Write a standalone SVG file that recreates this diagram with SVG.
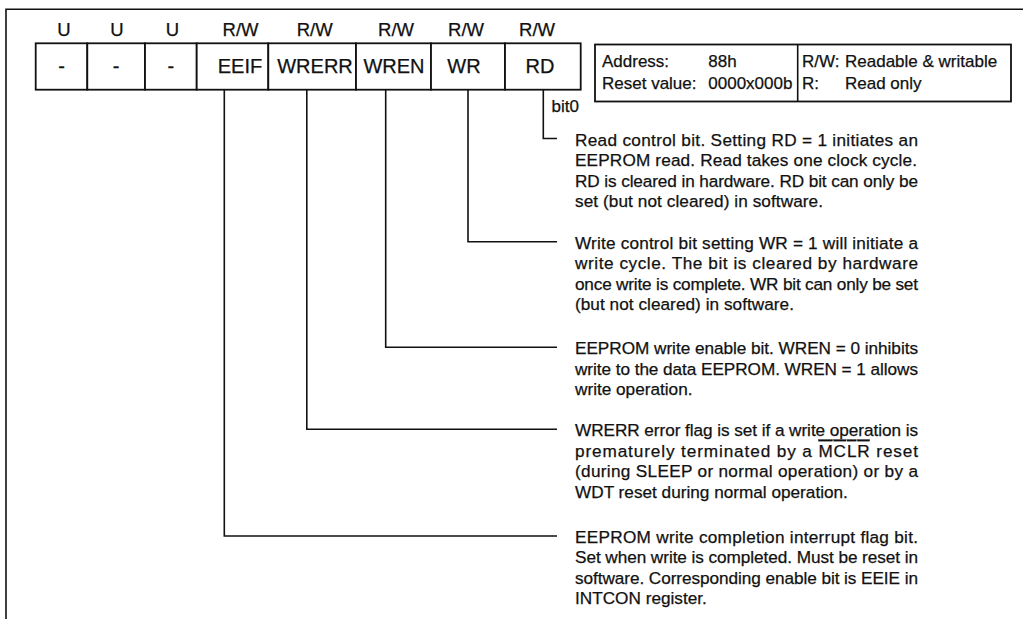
<svg xmlns="http://www.w3.org/2000/svg" width="1023" height="619" viewBox="0 0 1023 619">
<style>
  .ln { stroke:#111; stroke-width:1.6; fill:none; }
  .box { stroke:#111; stroke-width:1.8; fill:#fff; }
  text { font-family:"Liberation Sans", Arial, sans-serif; fill:#111; stroke:#111; stroke-width:0.25; }
  .hd { font-size:18.5px; text-anchor:middle; }
  .cl { font-size:20px; text-anchor:middle; }
  .inf { font-size:17px; }
  .p { font-size:17.2px; }
</style>
<rect width="1023" height="619" fill="#fff"/>
<g id="frame">
  <path class="ln" d="M6,619 V9.3 H1023"/>
</g>
<g id="access">
  <text class="hd" x="64" y="36">U</text>
  <text class="hd" x="117" y="36">U</text>
  <text class="hd" x="172.5" y="36">U</text>
  <text class="hd" x="240.5" y="36">R/W</text>
  <text class="hd" x="314.7" y="36">R/W</text>
  <text class="hd" x="396" y="36">R/W</text>
  <text class="hd" x="466" y="36">R/W</text>
  <text class="hd" x="537" y="36">R/W</text>
</g>
<g id="register">
  <g id="bit7"><rect class="box" x="35.7" y="43.3" width="51.6" height="46.4"/><text class="cl" x="61.5" y="72.5">-</text></g>
  <g id="bit6"><rect class="box" x="87.3" y="43.3" width="57.7" height="46.4"/><text class="cl" x="116" y="72.5">-</text></g>
  <g id="bit5"><rect class="box" x="145" y="43.3" width="51.7" height="46.4"/><text class="cl" x="170.8" y="72.5">-</text></g>
  <g id="bit4-EEIF"><rect class="box" x="196.7" y="43.3" width="71.6" height="46.4"/><text class="cl" x="240" y="72.5">EEIF</text></g>
  <g id="bit3-WRERR"><rect class="box" x="268.3" y="43.3" width="87.7" height="46.4"/><text class="cl" x="315" y="72.5">WRERR</text></g>
  <g id="bit2-WREN"><rect class="box" x="356" y="43.3" width="75" height="46.4"/><text class="cl" x="394" y="72.5">WREN</text></g>
  <g id="bit1-WR"><rect class="box" x="431" y="43.3" width="74" height="46.4"/><text class="cl" x="464" y="72.5">WR</text></g>
  <g id="bit0-RD"><rect class="box" x="505" y="43.3" width="75.7" height="46.4"/><text class="cl" x="540" y="72.5">RD</text></g>
</g>
<g id="bit0-label"><text class="inf" x="551.5" y="111.5">bit0</text></g>
<g id="info">
  <rect class="box" x="595" y="44.5" width="416" height="57"/>
  <line class="ln" x1="797.7" y1="44.5" x2="797.7" y2="101.5"/>
  <text class="inf" x="602" y="67.3">Address:</text>
  <text class="inf" x="708.3" y="67.3">88h</text>
  <text class="inf" x="602" y="89.3">Reset value:</text>
  <text class="inf" x="708.3" y="89.3">0000x000b</text>
  <text class="inf" x="802" y="67.3">R/W:</text>
  <text class="inf" x="845" y="67.3">Readable &amp; writable</text>
  <text class="inf" x="802" y="89.3">R:</text>
  <text class="inf" x="845" y="89.3">Read only</text>
</g>
<g id="connectors">
  <path class="ln" d="M543.3,89.7 V138.5 H557"/>
  <path class="ln" d="M468,89.7 V241.7 H557"/>
  <path class="ln" d="M385.7,89.7 V347.3 H557"/>
  <path class="ln" d="M306.8,89.7 V429.3 H557"/>
  <path class="ln" d="M224.3,89.7 V536 H557"/>
</g>
<g id="desc-RD">
  <text class="p" x="575" y="145.5" textLength="343" lengthAdjust="spacing">Read control bit. Setting RD = 1 initiates an</text>
  <text class="p" x="575" y="166" textLength="342" lengthAdjust="spacing">EEPROM read. Read takes one clock cycle.</text>
  <text class="p" x="575" y="186.5" textLength="343" lengthAdjust="spacing">RD is cleared in hardware.  RD bit can only be</text>
  <text class="p" x="575" y="207" textLength="248" lengthAdjust="spacing">set (but not cleared) in software.</text>
</g>
<g id="desc-WR">
  <text class="p" x="575" y="248.5" textLength="343" lengthAdjust="spacing">Write control bit setting WR = 1 will initiate a</text>
  <text class="p" x="575" y="269" textLength="343" lengthAdjust="spacing">write cycle. The bit is cleared by hardware</text>
  <text class="p" x="575" y="289.5" textLength="343" lengthAdjust="spacing">once write is complete.  WR bit can only be set</text>
  <text class="p" x="575" y="310" textLength="219" lengthAdjust="spacing">(but not cleared) in software.</text>
</g>
<g id="desc-WREN">
  <text class="p" x="575" y="354" textLength="343" lengthAdjust="spacing">EEPROM write enable bit.  WREN = 0 inhibits</text>
  <text class="p" x="575" y="374.5" textLength="343" lengthAdjust="spacing">write to the data EEPROM.  WREN = 1 allows</text>
  <text class="p" x="575" y="395">write operation.</text>
</g>
<g id="desc-WRERR">
  <text class="p" x="575" y="436" textLength="343" lengthAdjust="spacing">WRERR error flag is set if a write operation is</text>
  <text class="p" x="575" y="456.5" textLength="343" lengthAdjust="spacing">prematurely terminated by a <tspan style="text-decoration:overline">MCLR</tspan> reset</text>
  <text class="p" x="575" y="477" textLength="343" lengthAdjust="spacing">(during  SLEEP or normal operation) or by a</text>
  <text class="p" x="575" y="497.5">WDT reset during normal operation.</text>
</g>
<g id="desc-EEIF">
  <text class="p" x="575" y="542.5" textLength="343" lengthAdjust="spacing">EEPROM write completion interrupt flag bit.</text>
  <text class="p" x="575" y="563" textLength="343" lengthAdjust="spacing">Set when write is completed.  Must be reset in</text>
  <text class="p" x="575" y="583.5" textLength="343" lengthAdjust="spacing">software.  Corresponding enable bit is EEIE in</text>
  <text class="p" x="575" y="604">INTCON register.</text>
</g>
</svg>
